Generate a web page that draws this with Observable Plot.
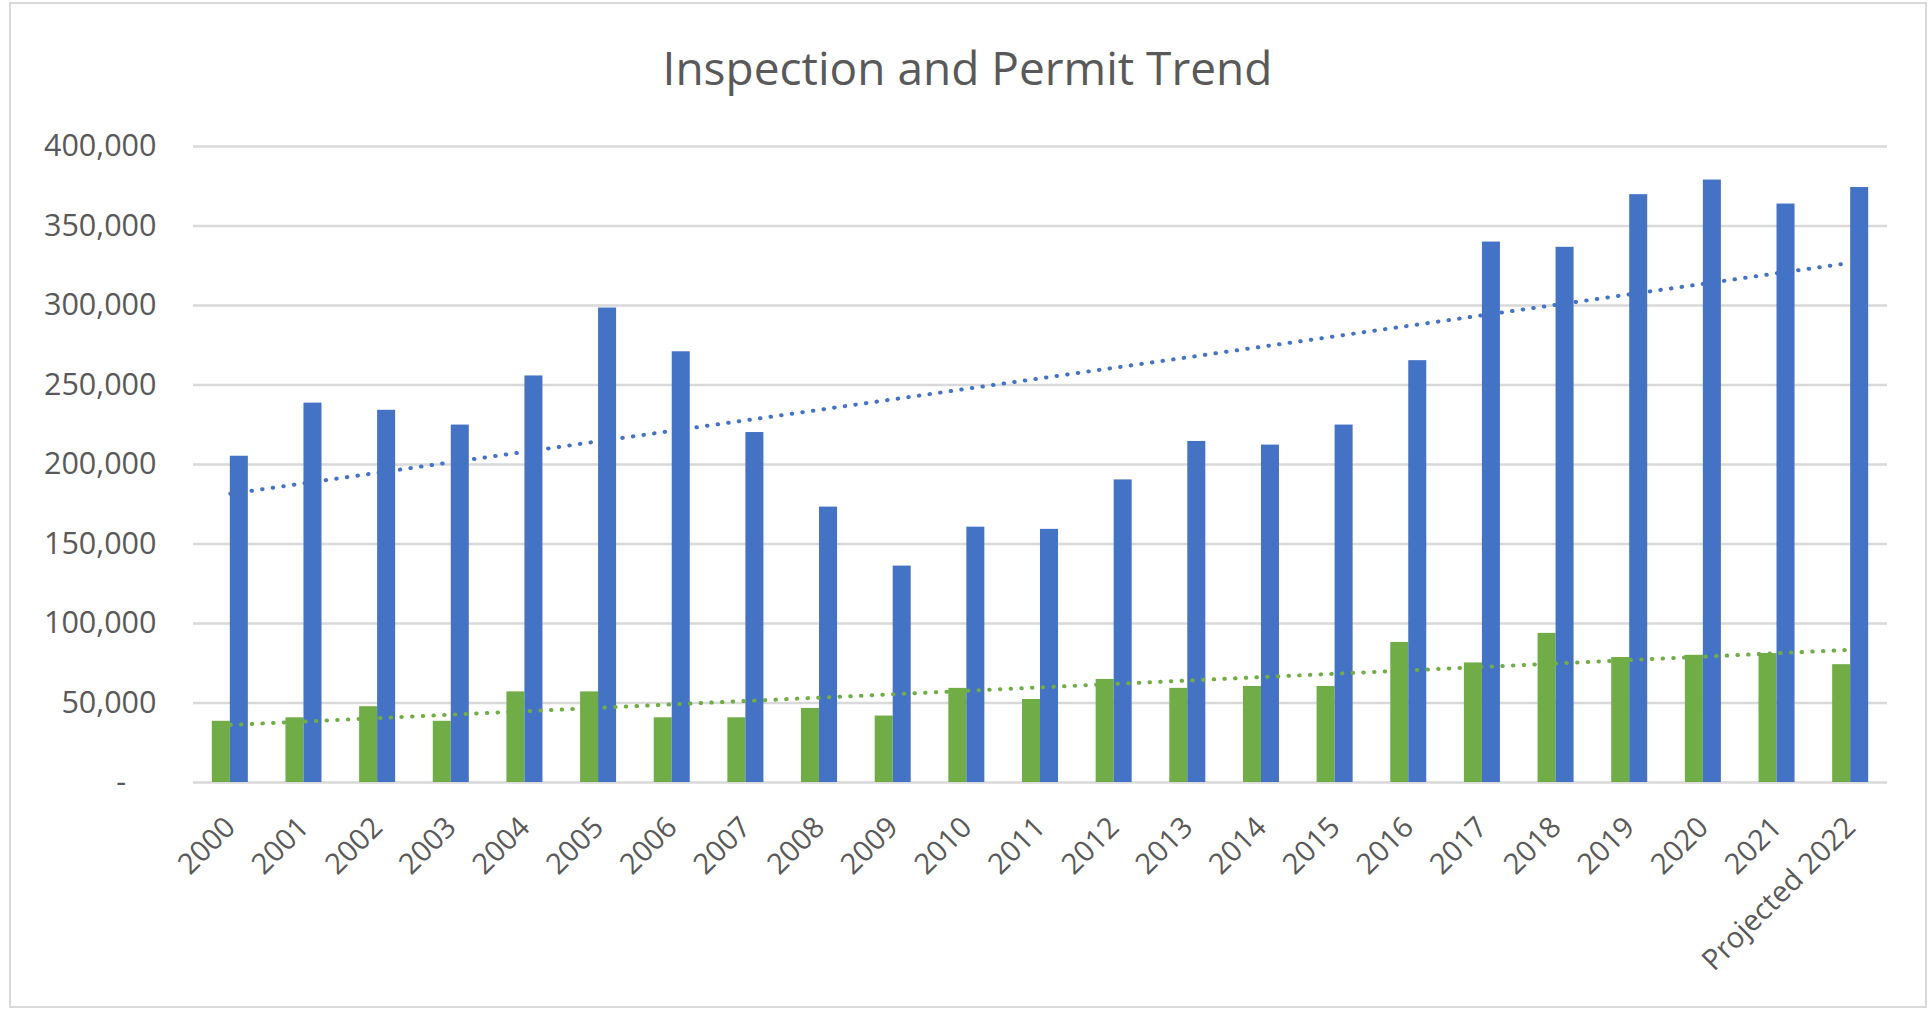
<!DOCTYPE html>
<html><head><meta charset="utf-8">
<script src="https://cdn.jsdelivr.net/npm/d3@7"></script>
<script src="https://cdn.jsdelivr.net/npm/@observablehq/plot@0.6"></script>
<style>
body{margin:0;background:#fff;width:1929px;height:1010px;overflow:hidden;position:relative;font-family:"Open Sans",sans-serif}
#frame{position:absolute;left:9px;top:2px;width:1918px;height:1006px;border:2px solid #d9d9d9;box-sizing:border-box}
#title{position:absolute;left:0;width:1935px;top:44px;text-align:center;font-size:46px;line-height:1;color:#595959}
#chart{position:absolute;left:0;top:100px}
</style></head><body>
<div id="frame"></div>
<div id="title">Inspection and Permit Trend</div>
<div id="chart"></div>
<script>
const years = ["2000","2001","2002","2003","2004","2005","2006","2007","2008","2009","2010","2011","2012","2013","2014","2015","2016","2017","2018","2019","2020","2021","Projected 2022"];
const inspections = [205200, 238600, 234100, 224800, 255700, 298400, 270900, 220100, 173200, 136100, 160600, 159200, 190300, 214500, 212200, 224800, 265300, 339900, 336600, 369700, 378900, 363800, 374200];
const permits = [38500, 40700, 47700, 38500, 57000, 57000, 40700, 40700, 46600, 41800, 59200, 52200, 64800, 59200, 60400, 60400, 88100, 75200, 93800, 78600, 80000, 81100, 74100];
const yTicks = [0, 50000, 100000, 150000, 200000, 250000, 300000, 350000, 400000];

// linear trend (least squares over category index), like Excel's linear trendline
function trend(vals) {
  const n = vals.length, xs = d3.range(n);
  const mx = d3.mean(xs), my = d3.mean(vals);
  let sxy = 0, sxx = 0;
  for (let i = 0; i < n; i++) { sxy += (i - mx) * (vals[i] - my); sxx += (i - mx) ** 2; }
  const b = sxy / sxx, a = my - b * mx;
  return xs.map(i => a + b * i);
}
const inspTrend = trend(inspections);
const permTrend = trend(permits);
const rows = years.map((year, i) => ({year, inspections: inspections[i], permits: permits[i], inspTrend: inspTrend[i], permTrend: permTrend[i]}));

const W = 1929, H = 900;
const fmt = d3.format(",");
const chart = Plot.plot({
  width: W, height: H,
  marginLeft: 193, marginRight: W - 1887, marginTop: 46, marginBottom: 218,
  style: {fontFamily: '"Open Sans", sans-serif', fontSize: "29px", color: "#595959", background: "transparent", overflow: "visible"},
  x: {domain: years, paddingInner: 0.511, paddingOuter: 0.2555, round: false, label: null},
  y: {domain: [0, 400000], label: null},
  marks: [
    Plot.ruleY(yTicks, {stroke: "#d9d9d9", strokeWidth: 2.5}),
    Plot.barY(rows, {x: "year", y: "permits", fill: "#70AD47", insetRight: 18}),
    Plot.barY(rows, {x: "year", y: "inspections", fill: "#4472C4", insetLeft: 18}),
    Plot.line(rows, {x: "year", y: "inspTrend", stroke: "#4472C4", strokeWidth: 4, strokeDasharray: "0.5 10.2", strokeLinecap: "round"}),
    Plot.line(rows, {x: "year", y: "permTrend", stroke: "#70AD47", strokeWidth: 4, strokeDasharray: "0.5 10.2", strokeLinecap: "round"}),
    Plot.axisY({ticks: yTicks, tickSize: 0, tickPadding: 37, fontSize: 30.5, tickFormat: d => d === 0 ? "-\u2002\u2002" : fmt(d)}),
    Plot.axisX({tickSize: 0, tickRotate: -45, tickPadding: 40, fontSize: 29})
  ]
});
document.getElementById("chart").appendChild(chart);
</script>
</body></html>
